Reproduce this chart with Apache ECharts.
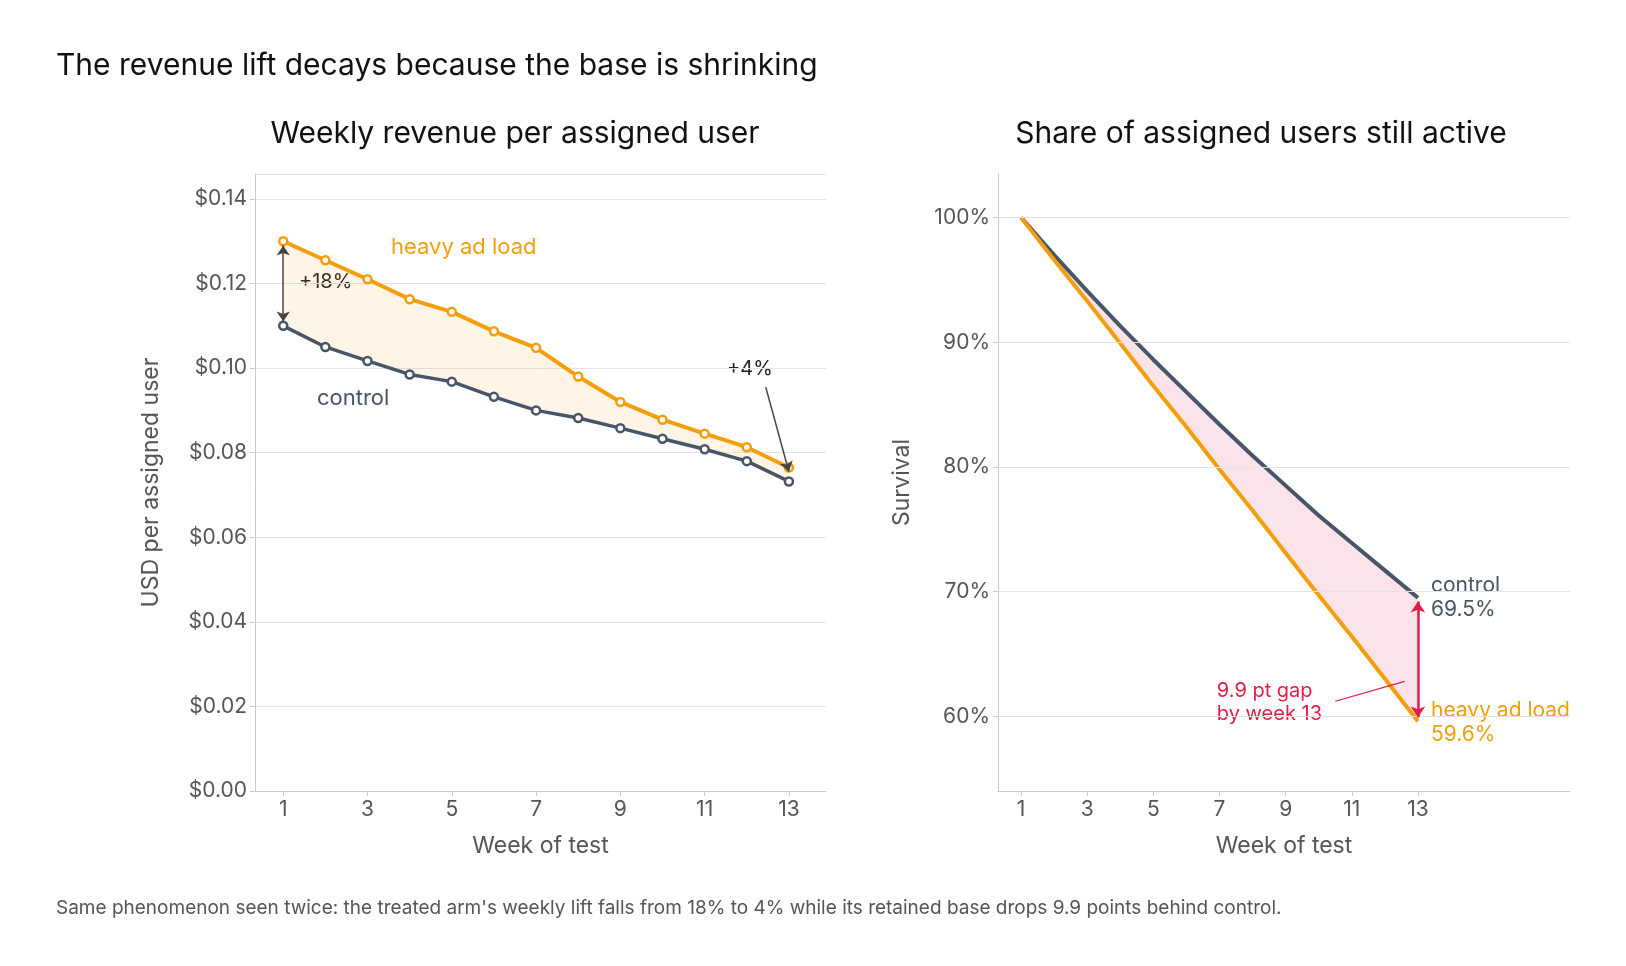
<!DOCTYPE html><html><head><meta charset="utf-8">
<script src="https://cdn.jsdelivr.net/npm/echarts@6/dist/echarts.min.js"></script>
<style>html,body{margin:0;background:#fff}#c{width:1626px;height:966px}</style></head><body><div id="c"></div>
<script>
const weeks=[1,2,3,4,5,6,7,8,9,10,11,12,13];
const revHeavy=[0.130,0.1255,0.121,0.1163,0.1133,0.1087,0.1048,0.098,0.092,0.0878,0.0845,0.0813,0.0765];
const revControl=[0.110,0.105,0.1017,0.0985,0.0968,0.0932,0.090,0.0882,0.0858,0.0833,0.0808,0.078,0.0732];
const survControl=[100,97.0,94.1,91.3,88.6,86.0,83.4,80.9,78.5,76.1,73.9,71.7,69.5];
const survHeavy=[100,96.6,93.3,89.9,86.5,83.2,79.8,76.5,73.1,69.7,66.4,63.0,59.6];
const oddTicks=[1,3,5,7,9,11,13];
const survTicks=[60,70,80,90,100];
const ORANGE='#f59e0b',SLATE='#475569',RED='#e11d48',GRAY='#555';
const F='Inter, "Noto Sans", sans-serif';
const pair=(a)=>weeks.map((w,i)=>[w,a[i]]);
const axisCommon={axisLine:{show:true,lineStyle:{color:'#ccc'}},axisTick:{show:true,lineStyle:{color:'#ccc'}},
 axisLabel:{color:GRAY,fontSize:21,fontFamily:F},nameTextStyle:{color:GRAY,fontSize:23,fontFamily:F}};
function band(upper,lower,color,xi){
 return {type:'custom',xAxisIndex:xi,yAxisIndex:xi,silent:true,z:1,data:[[weeks[0],upper[0]]],
  renderItem:(p,api)=>{
   const pts=weeks.map((w,i)=>api.coord([w,upper[i]])).concat(weeks.slice().reverse().map((w,j)=>{const i=weeks.length-1-j;return api.coord([w,lower[i]]);}));
   return {type:'polygon',shape:{points:pts},style:{fill:color}};
  }};
}
const chart=echarts.init(document.getElementById('c'));
chart.setOption({
 animation:false,
 title:[{text:'The revenue lift decays because the base is shrinking',left:51,top:46,textStyle:{fontSize:30,fontWeight:'normal',color:'#111',fontFamily:F}},
  {text:'Weekly revenue per assigned user',left:510,textAlign:'center',top:114,textStyle:{fontSize:30,fontWeight:'normal',color:'#111',fontFamily:F}},
  {text:'Share of assigned users still active',left:1256,textAlign:'center',top:114,textStyle:{fontSize:30,fontWeight:'normal',color:'#111',fontFamily:F}},
  {text:"Same phenomenon seen twice: the treated arm's weekly lift falls from 18% to 4% while its retained base drops 9.9 points behind control.",left:51,top:894,textStyle:{fontSize:19,fontWeight:'normal',color:GRAY,fontFamily:F}}],
 grid:[{left:255,width:571,top:174,height:617},{left:998,width:572,top:174,height:617}],
 xAxis:[{...axisCommon,type:'value',gridIndex:0,min:0.33,max:13.88,splitLine:{show:false},
   axisTick:{...axisCommon.axisTick,customValues:oddTicks},axisLabel:{...axisCommon.axisLabel,customValues:oddTicks},
   name:'Week of test',nameLocation:'middle',nameGap:44},
  {...axisCommon,type:'value',gridIndex:1,min:0.3,max:17.6,splitLine:{show:false},
   axisTick:{...axisCommon.axisTick,customValues:oddTicks},axisLabel:{...axisCommon.axisLabel,customValues:oddTicks},
   name:'Week of test',nameLocation:'middle',nameGap:44}],
 yAxis:[{...axisCommon,type:'value',gridIndex:0,min:0,max:0.1459,interval:0.02,
   axisLabel:{...axisCommon.axisLabel,showMaxLabel:false,formatter:v=>'$'+v.toFixed(2)},splitLine:{lineStyle:{color:'#e3e3e3'}},
   name:'USD per assigned user',nameLocation:'middle',nameGap:92},
  {...axisCommon,type:'value',gridIndex:1,min:54,max:103.5,splitLine:{show:false},
   axisTick:{...axisCommon.axisTick,customValues:survTicks},axisLabel:{...axisCommon.axisLabel,customValues:survTicks,formatter:v=>v+'%'},
   name:'Survival',nameLocation:'middle',nameGap:84}],
 series:[
  band(revHeavy,revControl,'rgba(245,158,11,0.1)',0),
  {type:'line',xAxisIndex:0,yAxisIndex:0,data:pair(revControl),symbol:'circle',symbolSize:8,itemStyle:{color:'#fff',borderColor:SLATE,borderWidth:2.5},lineStyle:{color:SLATE,width:3.5}},
  {type:'line',xAxisIndex:0,yAxisIndex:0,data:pair(revHeavy),symbol:'circle',symbolSize:8,itemStyle:{color:'#fff',borderColor:ORANGE,borderWidth:2.5},lineStyle:{color:ORANGE,width:4},
   markLine:{silent:true,symbol:['arrow','arrow'],symbolSize:10,label:{show:false},lineStyle:{color:'#444',width:1.5,type:'solid'},
    data:[[{coord:[1,revHeavy[0]-0.001]},{coord:[1,revControl[0]+0.001]}],
          [{coord:[12.45,0.0955],symbol:'none'},{coord:[13,revHeavy[12]-0.001],symbol:'arrow'}]]}},
  band(survControl,survHeavy,'rgba(225,29,72,0.12)',1),
  {type:'line',xAxisIndex:1,yAxisIndex:1,data:[],symbol:'none',silent:true,
   markLine:{silent:true,symbol:'none',label:{show:false},lineStyle:{color:'#e3e3e3',width:1,type:'solid'},data:survTicks.map(v=>({yAxis:v}))}},
  {type:'line',xAxisIndex:1,yAxisIndex:1,data:pair(survControl),symbol:'none',lineStyle:{color:SLATE,width:4}},
  {type:'line',xAxisIndex:1,yAxisIndex:1,data:pair(survHeavy),symbol:'none',lineStyle:{color:ORANGE,width:4},
   markLine:{silent:true,symbol:['arrow','arrow'],symbolSize:11,label:{show:false},lineStyle:{color:RED,width:2.5,type:'solid'},
    data:[[{coord:[13,survControl[12]-0.3]},{coord:[13,survHeavy[12]+0.3]}],
          [{coord:[10.5,61.2],symbol:'none',lineStyle:{width:1.2}},{coord:[12.6,62.8],symbol:'none'}]]}}
 ],
 graphic:[
  {type:'text',left:391,top:236,style:{text:'heavy ad load',fill:ORANGE,font:'22px '+F}},
  {type:'text',left:317,top:387,style:{text:'control',fill:SLATE,font:'22px '+F}},
  {type:'text',left:299,top:272,style:{text:'+18%',fill:'#222',font:'20px '+F}},
  {type:'text',left:727,top:359,style:{text:'+4%',fill:'#222',font:'20px '+F}},
  {type:'text',left:1431,top:574,style:{text:'control\n69.5%',fill:SLATE,font:'21px '+F,lineHeight:24}},
  {type:'text',left:1431,top:699,style:{text:'heavy ad load\n59.6%',fill:ORANGE,font:'21px '+F,lineHeight:24}},
  {type:'text',right:304,top:679,style:{text:'9.9 pt gap\nby week 13',fill:RED,font:'20px '+F,lineHeight:23,align:'right'}}
 ]
});
</script></body></html>
